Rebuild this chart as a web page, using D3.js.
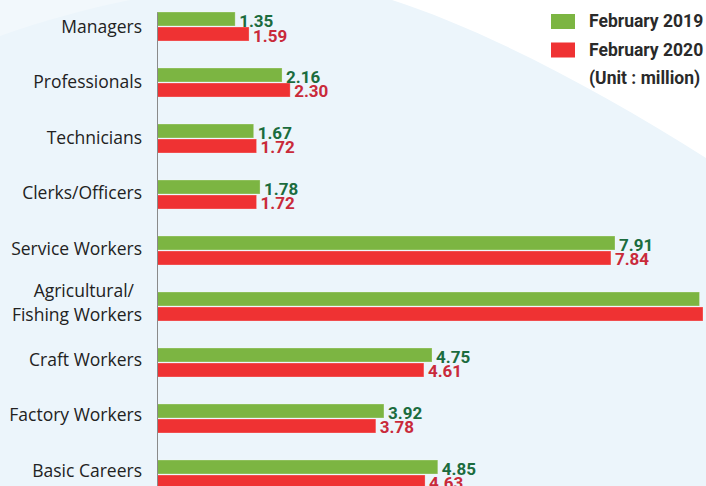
<!DOCTYPE html>
<html>
<head>
<meta charset="utf-8">
<script src="https://cdn.jsdelivr.net/npm/d3@7"></script>
<style>
  html, body { margin: 0; padding: 0; background: #ecf5fb; }
  svg { display: block; }
</style>
</head>
<body>
<div id="chart"></div>
<script>
// data
var categories = ["Managers", "Professionals", "Technicians", "Clerks/Officers", "Service Workers",
    "Agricultural/\nFishing Workers", "Craft Workers", "Factory Workers", "Basic Careers"];
var feb2019 = [1.35, 2.16, 1.67, 1.78, 7.91, 9.37, 4.75, 3.92, 4.85];
var feb2020 = [1.59, 2.30, 1.72, 1.72, 7.84, 9.43, 4.61, 3.78, 4.63];
var seriesNames = ["February 2019", "February 2020"];
var unitNote = "(Unit : million)";

var width = 706, height = 486;
var colors = {"February 2019": "#7cb542", "February 2020": "#ef3233"};
var labelColors = {"February 2019": "#1b6c3e", "February 2020": "#c92a3a"};

var svg = d3.select("#chart").append("svg")
    .attr("width", width)
    .attr("height", height);

//background shapes
svg.append("rect")
    .attr("width", width)
    .attr("height", height)
    .attr("fill", "#ecf5fb");
svg.append("path")
    .attr("d", "M392,0 C480,28 600,90 706,158 L706,0 Z")
    .attr("fill", "#ffffff");
svg.append("path")
    .attr("d", "M0,0 L130,0 C80,10 30,25 0,36 Z")
    .attr("fill", "#f2f8fc");

//scales
var y = d3.scaleBand()
    .domain(categories)
    .range([12, 489])
    .paddingInner(0.482)
    .paddingOuter(0);

var ySub = d3.scaleBand()
    .domain(seriesNames)
    .range([0, y.bandwidth()])
    .paddingInner(1 / 15);

// category labels sit on a slightly tighter grid than the bars
var yLabel = d3.scalePoint()
    .domain(categories)
    .range([26.7, 470.5]);

var x = d3.scaleLinear()
    .domain([0, 10])
    .range([157, 736]);

//rows
var rows = categories.map(function (c, i) {
    return {cat: c, values: [
        {name: seriesNames[0], value: feb2019[i]},
        {name: seriesNames[1], value: feb2020[i]}
    ]};
});

var group = svg.append("g")
    .selectAll("g")
    .data(rows)
    .enter().append("g")
    .attr("transform", function (d) { return "translate(0," + y(d.cat) + ")"; });

group.selectAll("rect")
    .data(function (d) { return d.values; })
    .enter().append("rect")
    .attr("x", x(0))
    .attr("y", function (d) { return ySub(d.name); })
    .attr("width", function (d) { return x(d.value) - x(0); })
    .attr("height", ySub.bandwidth())
    .attr("fill", function (d) { return colors[d.name]; })
    .attr("stroke", "#ffffff")
    .attr("stroke-opacity", 0.35)
    .attr("stroke-width", 0.8);

// value labels (the ones past the right edge are not in view)
group.selectAll("text")
    .data(function (d) {
        return d.values.filter(function (v) { return x(v.value) + 4 < width - 20; });
    })
    .enter().append("text")
    .attr("x", function (d) { return x(d.value) + 4; })
    .attr("y", function (d) { return ySub(d.name) + ySub.bandwidth() + 0.5; })
    .attr("fill", function (d) { return labelColors[d.name]; })
    .style("font-family", "Roboto, sans-serif")
    .style("font-weight", "bold")
    .style("font-size", "17px")
    .text(function (d) { return d.value.toFixed(2); });

//y axis line
var yAxis = d3.axisLeft(y)
    .tickValues([])
    .tickSizeOuter(0);

var axisG = svg.append("g")
    .attr("class", "y axis")
    .attr("transform", "translate(" + x(0) + ",0)")
    .call(yAxis);

axisG.select(".domain")
    .attr("stroke", "#8a8a8a")
    .attr("stroke-width", 1);

//category labels
var catText = svg.append("g")
    .selectAll("text")
    .data(categories)
    .enter().append("text")
    .attr("text-anchor", "end")
    .attr("x", x(0) - 15)
    .attr("y", function (d) { return yLabel(d); })
    .attr("dy", "0.35em")
    .attr("fill", "#222222")
    .style("font-family", "'Open Sans', sans-serif")
    .style("font-size", "17.5px")
    .text(function (d) { return d; });

catText.each(function (d) {
    var lines = d.split("\n");
    if (lines.length < 2) return;
    var t = d3.select(this).text(null).attr("dy", null);
    var cy = yLabel(d);
    lines.forEach(function (l, k) {
        t.append("tspan")
            .attr("x", x(0) - (k === 0 ? 23 : 15))
            .attr("y", cy + (k === 0 ? -7 : 17))
            .text(l);
    });
});

//legend
var legend = svg.append("g")
    .attr("transform", "translate(551,14)");

var item = legend.selectAll("g")
    .data(seriesNames)
    .enter().append("g")
    .attr("transform", function (d, i) { return "translate(0," + i * 28.5 + ")"; });

item.append("rect")
    .attr("width", 24)
    .attr("height", 15)
    .attr("fill", function (d) { return colors[d]; });

item.append("text")
    .attr("x", 38)
    .attr("y", 13)
    .attr("fill", "#2a2a2a")
    .style("font-family", "Roboto, sans-serif")
    .style("font-weight", "bold")
    .style("font-size", "17.5px")
    .text(function (d) { return d; });

legend.append("text")
    .attr("x", 38)
    .attr("y", 70)
    .attr("fill", "#2a2a2a")
    .style("font-family", "Roboto, sans-serif")
    .style("font-weight", "bold")
    .style("font-size", "17.5px")
    .text(unitNote);
</script>
</body>
</html>
